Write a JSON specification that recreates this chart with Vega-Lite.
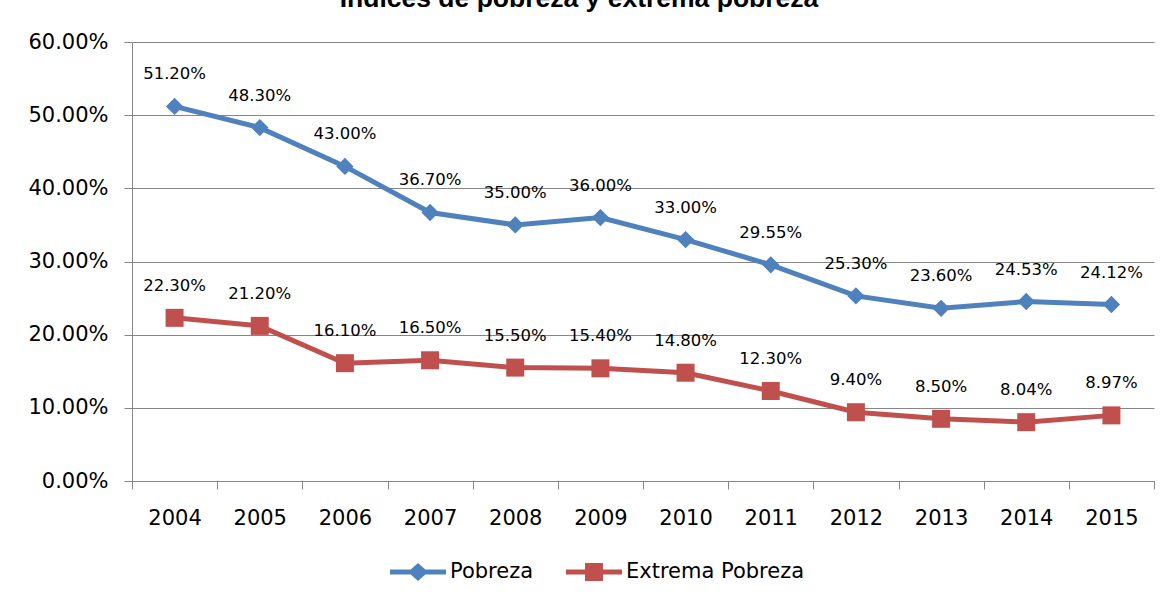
{
  "$schema": "https://vega.github.io/schema/vega-lite/v6.json",
  "width": 1022,
  "height": 439,
  "autosize": {"type": "none"},
  "padding": {"left": 132, "top": 42, "right": 18, "bottom": 124},
  "background": "white",
  "config": {"view": {"stroke": null}},
  "title": {
    "text": "Indices de pobreza y extrema pobreza",
    "font": "Liberation Sans",
    "fontSize": 26.5,
    "fontWeight": "bold",
    "color": "black",
    "anchor": "middle",
    "frame": "group",
    "dx": -64,
    "baseline": "alphabetic",
    "offset": -2
  },
  "data": {
    "values": [
      {"year": "2004", "serie": "Pobreza", "value": 0.512},
      {"year": "2005", "serie": "Pobreza", "value": 0.483},
      {"year": "2006", "serie": "Pobreza", "value": 0.43},
      {"year": "2007", "serie": "Pobreza", "value": 0.367},
      {"year": "2008", "serie": "Pobreza", "value": 0.35},
      {"year": "2009", "serie": "Pobreza", "value": 0.36},
      {"year": "2010", "serie": "Pobreza", "value": 0.33},
      {"year": "2011", "serie": "Pobreza", "value": 0.2955},
      {"year": "2012", "serie": "Pobreza", "value": 0.253},
      {"year": "2013", "serie": "Pobreza", "value": 0.236},
      {"year": "2014", "serie": "Pobreza", "value": 0.2453},
      {"year": "2015", "serie": "Pobreza", "value": 0.2412},
      {"year": "2004", "serie": "Extrema Pobreza", "value": 0.223},
      {"year": "2005", "serie": "Extrema Pobreza", "value": 0.212},
      {"year": "2006", "serie": "Extrema Pobreza", "value": 0.161},
      {"year": "2007", "serie": "Extrema Pobreza", "value": 0.165},
      {"year": "2008", "serie": "Extrema Pobreza", "value": 0.155},
      {"year": "2009", "serie": "Extrema Pobreza", "value": 0.154},
      {"year": "2010", "serie": "Extrema Pobreza", "value": 0.148},
      {"year": "2011", "serie": "Extrema Pobreza", "value": 0.123},
      {"year": "2012", "serie": "Extrema Pobreza", "value": 0.094},
      {"year": "2013", "serie": "Extrema Pobreza", "value": 0.085},
      {"year": "2014", "serie": "Extrema Pobreza", "value": 0.0804},
      {"year": "2015", "serie": "Extrema Pobreza", "value": 0.0897}
    ]
  },
  "encoding": {
    "x": {
      "field": "year",
      "type": "ordinal",
      "scale": {"type": "band", "paddingInner": 0, "paddingOuter": 0},
      "axis": {
        "title": null,
        "labelAngle": 0,
        "labelFont": "DejaVu Sans",
        "labelFontSize": 21,
        "labelColor": "black",
        "labelPadding": 18,
        "tickBand": "extent",
        "tickSize": 8,
        "tickColor": "#868686",
        "domainColor": "#868686",
        "grid": false
      }
    },
    "y": {
      "field": "value",
      "type": "quantitative",
      "scale": {"domain": [0, 0.6]},
      "axis": {
        "title": null,
        "format": ".2%",
        "values": [0, 0.1, 0.2, 0.3, 0.4, 0.5, 0.6],
        "labelFont": "DejaVu Sans",
        "labelFontSize": 21,
        "labelColor": "black",
        "labelPadding": 16,
        "tickSize": 8,
        "tickColor": "#868686",
        "domainColor": "#868686",
        "grid": true,
        "gridColor": "#868686"
      }
    },
    "color": {
      "field": "serie",
      "type": "nominal",
      "scale": {"domain": ["Pobreza", "Extrema Pobreza"], "range": ["#4F81BD", "#C0504D"]},
      "legend": {
        "orient": "none",
        "legendX": 258,
        "legendY": 502,
        "direction": "horizontal",
        "title": null,
        "padding": 0,
        "labelFont": "DejaVu Sans",
        "labelFontSize": 21,
        "labelColor": "black",
        "labelOffset": 4,
        "labelLimit": 400,
        "columnPadding": 32,
        "symbolSize": 3136,
        "encode": {
          "symbols": {
            "update": {
              "shape": {"signal": "datum.value === 'Pobreza' ? 'M-1,-0.09L1,-0.09L1,0.09L-1,0.09Z M0,-0.32L0.36,0L0,0.32L-0.36,0Z' : 'M-1,-0.09L1,-0.09L1,0.09L-1,0.09Z M-0.32,-0.32L0.32,-0.32L0.32,0.32L-0.32,0.32Z'"},
              "fill": {"scale": "color", "field": "value"},
              "stroke": {"value": "transparent"},
              "strokeWidth": {"value": 0},
              "opacity": {"value": 1}
            }
          }
        }
      }
    }
  },
  "layer": [
    {"mark": {"type": "line", "strokeWidth": 5}},
    {
      "transform": [{"filter": "datum.serie === 'Pobreza'"}],
      "mark": {"type": "point", "filled": true, "opacity": 1, "strokeWidth": 0, "size": 300, "shape": "diamond"}
    },
    {
      "transform": [{"filter": "datum.serie === 'Extrema Pobreza'"}],
      "mark": {"type": "point", "filled": true, "opacity": 1, "strokeWidth": 0, "size": 324, "shape": "square"}
    },
    {
      "mark": {"type": "text", "dy": -32, "fontSize": 16.5, "font": "DejaVu Sans", "baseline": "middle"},
      "encoding": {
        "text": {"field": "value", "type": "quantitative", "format": ".2%"},
        "color": {"value": "black"}
      }
    }
  ]
}
